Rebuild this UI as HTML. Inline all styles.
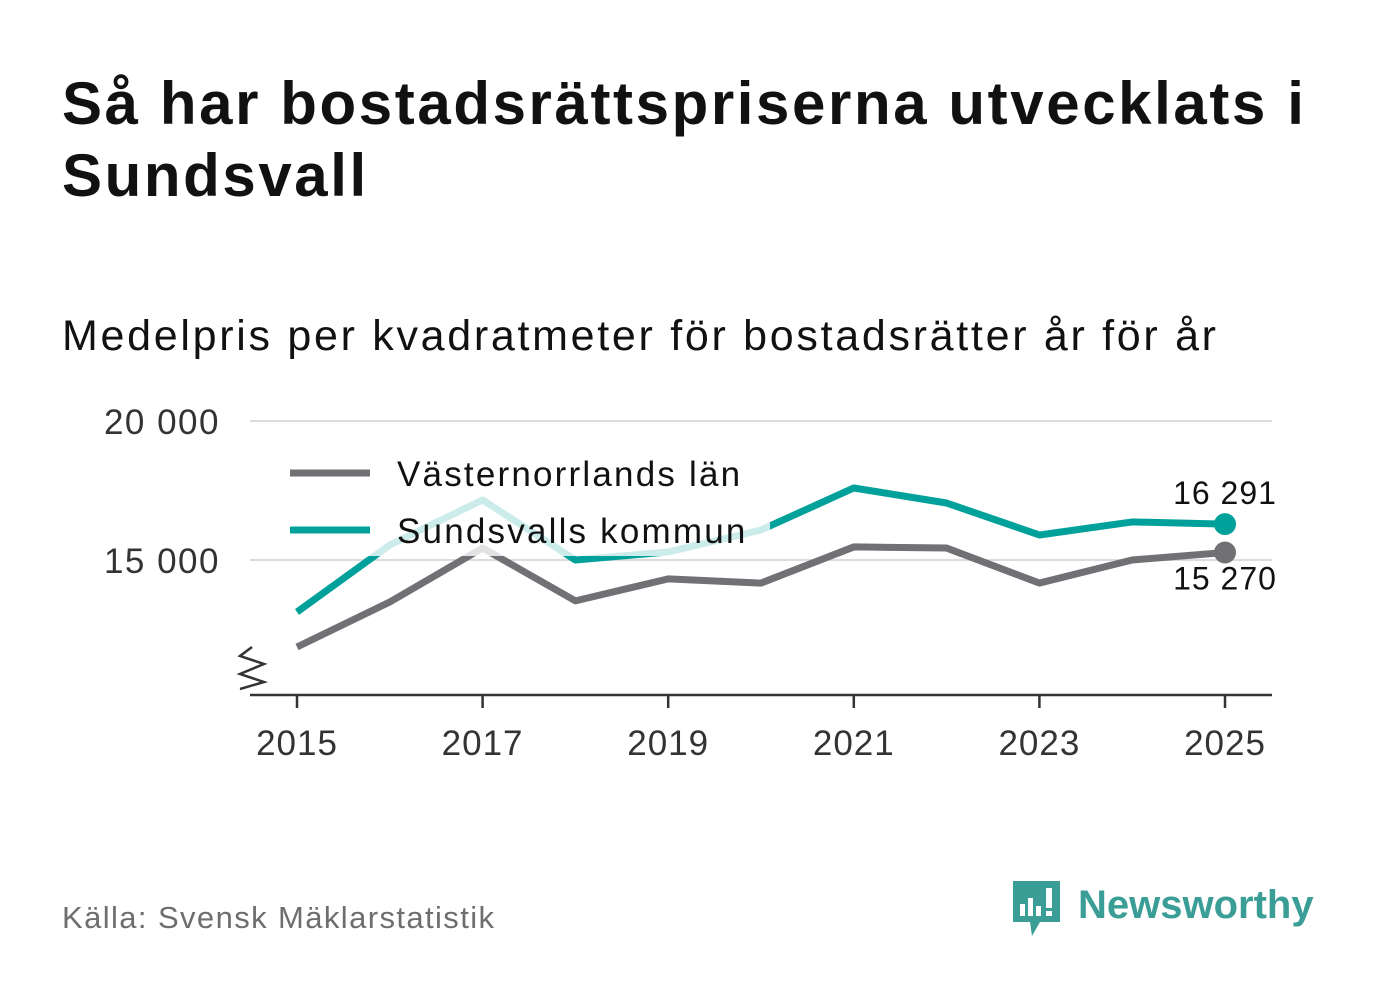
<!DOCTYPE html>
<html><head><meta charset="utf-8">
<style>
body{margin:0;background:#fff;font-family:"Liberation Sans",sans-serif;}
#wrap{position:relative;width:1382px;height:999px;overflow:hidden;}
h1{position:absolute;left:62px;top:68px;margin:0;font-size:60px;line-height:72px;font-weight:bold;color:#111;width:1310px;letter-spacing:2.6px;}
.sub{position:absolute;left:62px;top:312px;font-size:43px;color:#111;letter-spacing:2.7px;}
.src{position:absolute;left:62px;top:900px;font-size:31px;color:#6e6e6e;letter-spacing:1.4px;}
</style></head><body>
<div id="wrap">
<h1>Så har bostadsrättspriserna utvecklats i Sundsvall</h1>
<div class="sub">Medelpris per kvadratmeter för bostadsrätter år för år</div>
<svg id="chart" width="1382" height="999" style="position:absolute;left:0;top:0"></svg>
<div class="src">Källa: Svensk Mäklarstatistik</div>
<svg style="position:absolute;left:1010px;top:878px" width="320" height="64">
<path d="M3 3 H50 V44 H30 L22 58 L20 44 H3 Z" fill="#3a9e96"/>
<rect x="10" y="26" width="5" height="12" fill="#fff"/><rect x="18" y="20" width="5" height="18" fill="#fff"/><rect x="26" y="28" width="5" height="10" fill="#fff"/><rect x="36" y="10" width="6" height="20" fill="#fff"/><rect x="36" y="33" width="6" height="5" fill="#fff"/>
<text x="68" y="40" font-family="Liberation Sans,sans-serif" font-size="40" font-weight="bold" fill="#3a9e96">Newsworthy</text>
</svg>
</div>
<script>
const years=[2015,2016,2017,2018,2019,2020,2021,2022,2023,2024,2025];
const lanValues=[11870,13490,15430,13530,14320,14170,15470,15430,14170,15000,15270];
const kommunValues=[13130,15540,17160,15000,15290,16080,17590,17050,15900,16370,16291];
const yTicks=[15000,20000];
const xTicks=[2015,2017,2019,2021,2023,2025];
const NS="http://www.w3.org/2000/svg";
const svg=document.getElementById('chart');
const x=v=>297+(v-2015)*(1225-297)/10;
const y=v=>560-(v-15000)*(139/5000);
function mk(t,a){const e=document.createElementNS(NS,t);for(const k in a)e.setAttribute(k,a[k]);svg.appendChild(e);return e;}
yTicks.forEach(t=>{
 const g=mk('line',{x1:250,x2:1272,y1:y(t),y2:y(t),stroke:'#dcdcdc','stroke-width':2});
 
 
 const l=mk('text',{x:220,y:y(t)+13,'text-anchor':'end','font-size':35,fill:'#333','letter-spacing':1.5});
 l.textContent=t.toLocaleString('sv-SE').replace(/\u00a0/g,' ');
 
 
});
const ax=mk('line',{x1:250,x2:1272,y1:695,y2:695,stroke:'#333','stroke-width':2.5});


const br=mk('path',{d:'M252 647 L240 656 L264 664 L240 674 L264 682 L240 689',fill:'none',stroke:'#333','stroke-width':2.5});


xTicks.forEach(t=>{
 const tk=mk('line',{x1:x(t),x2:x(t),y1:695,y2:708,stroke:'#333','stroke-width':2.5});
 
 
 const l=mk('text',{x:x(t),y:755,'text-anchor':'middle','font-size':35,fill:'#333','letter-spacing':1});
 l.textContent=t;
 
 
});
function line(vals,col,name){
 const p=mk('polyline',{points:vals.map((v,i)=>x(years[i])+','+y(v)).join(' '),fill:'none',stroke:col,'stroke-width':7,'stroke-linejoin':'round'});
 
 
}
line(lanValues,'#717075','line-vasternorrland');
line(kommunValues,'#00a19a','line-sundsvall');
const bg=mk('rect',{x:280,y:440,width:490,height:116,fill:'#fff','fill-opacity':0.8});


[['Västernorrlands län','#717075',473],['Sundsvalls kommun','#00a19a',530]].forEach(([n,c,yy])=>{
 const s=mk('line',{x1:290,x2:370,y1:yy,y2:yy,stroke:c,'stroke-width':7});
 
 
 const t=mk('text',{x:397,y:yy+13,'font-size':35,fill:'#111','letter-spacing':2.2});
 t.textContent=n;
 
 
});
const last=years.length-1;
[[lanValues,'#717075',1],[kommunValues,'#00a19a',-1]].forEach(([v,c,d])=>{
 const dot=mk('circle',{cx:x(years[last]),cy:y(v[last]),r:11,fill:c});
 
 
 const t=mk('text',{x:x(years[last]),y:y(v[last])+(d>0?37:-20),'text-anchor':'middle','font-size':32,fill:'#111','letter-spacing':1});
 t.textContent=v[last].toLocaleString('sv-SE').replace(/\u00a0/g,' ');
 
 
});
</script>
</body></html>
